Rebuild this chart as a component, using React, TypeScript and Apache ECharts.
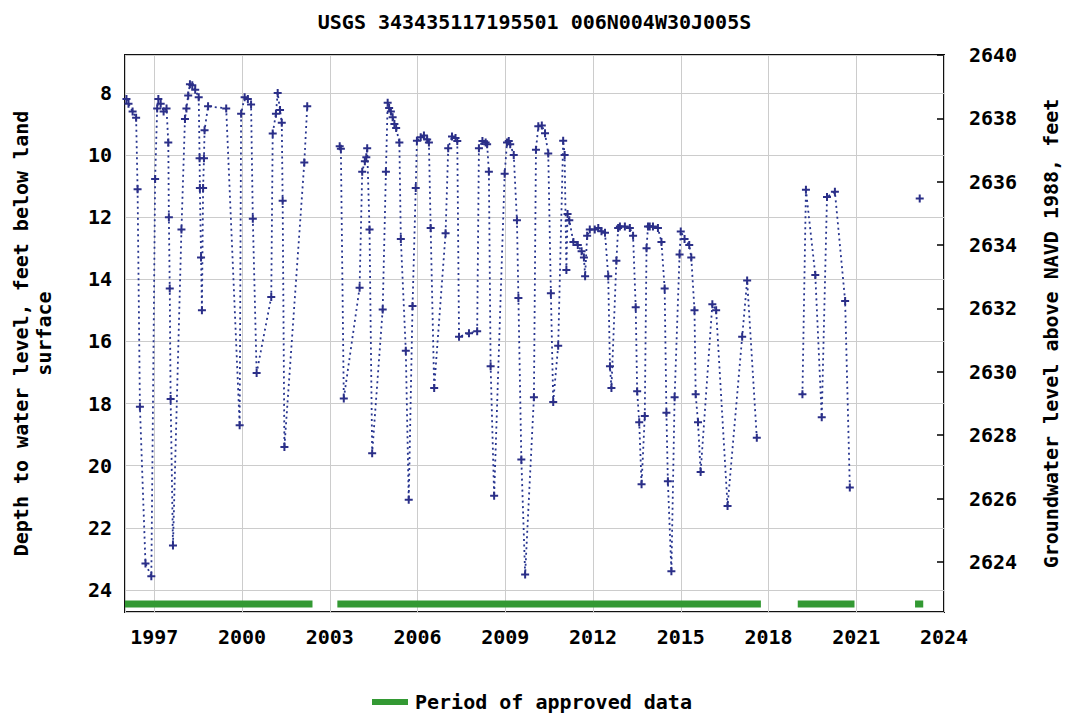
import React, { useEffect, useRef } from "react";
import * as echarts from "echarts";

// ---- data (decimal years, depth to water in feet below land surface) ----
const seg1Dates = [
  1996.05, 1996.12, 1996.26, 1996.38, 1996.43, 1996.51, 1996.7, 1996.9, 1997.03, 1997.1,
  1997.14, 1997.22, 1997.32, 1997.42, 1997.48, 1997.5, 1997.53, 1997.56, 1997.64, 1997.93,
  1998.05, 1998.1, 1998.16, 1998.22, 1998.3, 1998.4, 1998.52, 1998.55, 1998.56, 1998.6,
  1998.63, 1998.67, 1998.7, 1998.72, 1998.84, 1999.46, 1999.92, 1999.97, 2000.09, 2000.2,
  2000.31, 2000.37, 2000.5, 2001.0, 2001.05, 2001.16, 2001.22, 2001.3, 2001.36, 2001.39,
  2001.45, 2002.13, 2002.23,
];
const seg1Depths = [
  8.2, 8.35, 8.6, 8.8, 11.1, 18.1, 23.15, 23.56, 10.77, 8.5,
  8.2, 8.35, 8.6, 8.5, 9.6, 12.0, 14.3, 17.85, 22.57, 12.4,
  8.84, 8.5, 8.08, 7.72, 7.75, 7.9, 8.14, 10.1, 11.06, 13.3,
  15.0, 11.06, 10.1, 9.2, 8.43, 8.5, 18.7, 8.67, 8.14, 8.2,
  8.37, 12.05, 17.02, 14.57, 9.31, 8.67, 8.0, 8.55, 8.96, 11.47,
  19.4, 10.24, 8.43,
];

const seg2Dates = [
  2003.34, 2003.38, 2003.48, 2004.02, 2004.11, 2004.2, 2004.25, 2004.28, 2004.36, 2004.45,
  2004.81, 2004.92, 2004.98, 2005.03, 2005.09, 2005.15, 2005.21, 2005.27, 2005.38, 2005.43,
  2005.6, 2005.7, 2005.83, 2005.94, 2005.98, 2006.11, 2006.22, 2006.33, 2006.39, 2006.45,
  2006.57, 2006.96, 2007.05, 2007.18, 2007.3, 2007.36, 2007.42, 2007.76, 2008.04, 2008.1,
  2008.22, 2008.33, 2008.38, 2008.44, 2008.5, 2008.62, 2008.98, 2009.06, 2009.12, 2009.17,
  2009.29, 2009.4, 2009.45, 2009.55, 2009.68, 2009.98, 2010.05, 2010.13, 2010.25, 2010.36,
  2010.47, 2010.56, 2010.64, 2010.81, 2010.98, 2011.03, 2011.09, 2011.13, 2011.19, 2011.33,
  2011.48, 2011.61, 2011.69, 2011.73, 2011.8, 2011.89, 2012.06, 2012.18, 2012.29, 2012.41,
  2012.52, 2012.58, 2012.63, 2012.8, 2012.86, 2012.92, 2013.09, 2013.26, 2013.37, 2013.46,
  2013.51, 2013.58, 2013.66, 2013.77, 2013.83, 2013.88, 2013.94, 2014.05, 2014.22, 2014.34,
  2014.45, 2014.51, 2014.56, 2014.68, 2014.79, 2014.96, 2015.0, 2015.13, 2015.29, 2015.36,
  2015.47, 2015.51, 2015.59, 2015.68, 2016.08, 2016.21, 2016.6, 2017.1, 2017.27, 2017.6,
];
const seg2Depths = [
  9.72, 9.8, 17.84, 14.27, 10.54, 10.2, 10.07, 9.78, 12.4, 19.6,
  14.97, 10.54, 8.32, 8.49, 8.6, 8.78, 9.0, 9.13, 9.6, 12.7,
  16.3, 21.1, 14.86, 11.06, 9.54, 9.43, 9.37, 9.5, 9.6, 12.35,
  17.5, 12.52, 9.78, 9.4, 9.45, 9.55, 15.85, 15.74, 15.67, 9.78,
  9.55, 9.6, 9.65, 10.54, 16.8, 20.97, 10.6, 9.6, 9.55, 9.65,
  10.0, 12.1, 14.6, 19.8, 23.5, 17.8, 9.83, 9.07, 9.05, 9.3,
  9.95, 14.45, 17.95, 16.14, 9.54, 10.0, 13.7, 11.9, 12.1, 12.8,
  12.9, 13.1, 13.3, 13.9, 12.6, 12.4, 12.4, 12.35, 12.45, 12.5,
  13.9, 16.8, 17.5, 13.4, 12.35, 12.3, 12.3, 12.35, 12.6, 14.9,
  17.6, 18.6, 20.6, 18.4, 13.0, 12.3, 12.3, 12.3, 12.35, 12.8,
  14.3, 18.3, 20.5, 23.4, 17.8, 13.2, 12.46, 12.7, 12.9, 13.3,
  15.0, 17.7, 18.6, 20.2, 14.8, 15.0, 21.3, 15.85, 14.04, 19.1,
];

const seg3Dates = [2019.16, 2019.28, 2019.6, 2019.82, 2020.0, 2020.27, 2020.62, 2020.78];
const seg3Depths = [17.7, 11.12, 13.86, 18.44, 11.35, 11.18, 14.7, 20.7];

const seg4Dates = [2023.17];
const seg4Depths = [11.4];

const approvedStart = [1996.0, 2003.26, 2019.0, 2023.01];
const approvedEnd = [2002.41, 2017.74, 2020.94, 2023.29];

const rightTickValues = [2624, 2626, 2628, 2630, 2632, 2634, 2636, 2638, 2640];

const yearLabelBase = 1997; // first labelled year
const titleText = "USGS 343435117195501 006N004W30J005S";
const leftAxisName = "Depth to water level, feet below land\nsurface";
const rightAxisName = "Groundwater level above NAVD 1988, feet";
const legendName = "Period of approved data";

// ---- styling ----
const FONT = "DejaVu Sans Mono";
const BAR_LEVEL = 24.45;
const PLUS = "path://M3,0H5V3H8V5H5V8H3V5H0V3H3Z";

const toX = (y: number) => y - yearLabelBase;

export default function App() {
  const ref = useRef<HTMLDivElement>(null);

  useEffect(() => {
    if (!ref.current) return;
    const chart = echarts.init(ref.current, undefined, { renderer: "svg" });

    const textBase = { fontFamily: FONT, fontWeight: "bold" as const, fontSize: 20, color: "#000" };

    const segs = [
      [seg1Dates, seg1Depths],
      [seg2Dates, seg2Depths],
      [seg3Dates, seg3Depths],
      [seg4Dates, seg4Depths],
    ];

    const dataSeries = segs.map(([d, v], i) => ({
      name: "measurements" + i,
      type: "line",
      xAxisIndex: 0,
      yAxisIndex: 0,
      data: d.map((x, j) => [toX(x), v[j]]),
      symbol: PLUS,
      symbolSize: 8,
      showSymbol: true,
      itemStyle: { color: "#2b2f88" },
      lineStyle: { color: "#26348f", width: 1.8, type: [2, 3.5] },
      z: 3,
    }));

    const barSeries = approvedStart.map((s, i) => ({
      name: legendName,
      type: "line",
      xAxisIndex: 0,
      yAxisIndex: 0,
      data: [
        [toX(s), BAR_LEVEL],
        [toX(approvedEnd[i]), BAR_LEVEL],
      ],
      symbol: "none",
      itemStyle: { color: "#339933" },
      lineStyle: { color: "#339933", width: 7, cap: "butt" },
      z: 2,
    }));

    chart.setOption({
      animation: false,
      backgroundColor: "#fff",
      title: {
        text: titleText,
        left: "center",
        top: 7,
        textStyle: { ...textBase },
      },
      legend: {
        data: [{ name: legendName, icon: "rect" }],
        left: 367,
        top: 687,
        itemWidth: 36,
        itemHeight: 6,
        itemGap: 10,
        textStyle: { ...textBase, padding: [0, 0, 0, 2] },
        selectedMode: false,
      },
      grid: {
        left: 125,
        right: 121,
        top: 55,
        bottom: 103,
        show: true,
        borderColor: "#111",
        borderWidth: 2,
        backgroundColor: "#fff",
      },
      xAxis: {
        type: "value",
        min: 1996 - yearLabelBase,
        max: 2024 - yearLabelBase,
        splitNumber: 9,
        axisLine: { show: false },
        axisTick: { show: false },
        splitLine: { show: true, lineStyle: { color: "#cccccc", width: 1 } },
        axisLabel: {
          ...textBase,
          margin: 15,
          showMinLabel: false,
          formatter: (v: number) => (Number.isInteger(v) && v >= 0 ? String(v + yearLabelBase) : ""),
        },
      },
      yAxis: [
        {
          type: "value",
          inverse: true,
          min: 6.78,
          max: 24.71,
          splitNumber: 9,
          position: "left",
          name: leftAxisName,
          nameLocation: "middle",
          nameGap: 70,
          nameTextStyle: { ...textBase, lineHeight: 23 },
          axisLine: { show: false },
          axisTick: { show: false },
          splitLine: { show: true, lineStyle: { color: "#cccccc", width: 1 } },
          axisLabel: {
            ...textBase,
            margin: 13,
            formatter: (v: number) => (Number.isInteger(v) ? String(v) : ""),
          },
        },
        {
          type: "value",
          min: 2622.42,
          max: 2640,
          splitNumber: 9,
          position: "right",
          name: rightAxisName,
          nameLocation: "middle",
          nameGap: 97,
          nameTextStyle: { ...textBase },
          axisLine: { show: false },
          axisTick: {
            show: true,
            inside: true,
            length: 7,
            customValues: rightTickValues,
            lineStyle: { color: "#000", width: 1.5 },
          },
          splitLine: { show: false },
          axisLabel: {
            ...textBase,
            margin: 25,
            formatter: (v: number) => (Number.isInteger(v) ? String(v) : ""),
          },
        },
      ],
      series: [...barSeries, ...dataSeries],
    });

    return () => chart.dispose();
  }, []);

  return (
    <div
      ref={ref}
      style={{ position: "fixed", left: 0, top: 0, width: 1069, height: 715, background: "#fff" }}
    />
  );
}
